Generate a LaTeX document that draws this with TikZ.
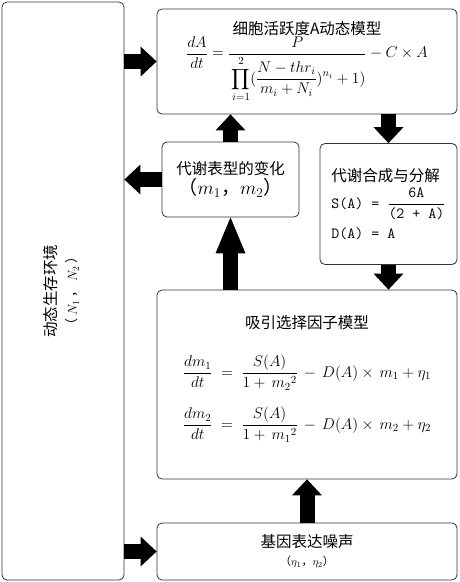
\documentclass[tikz,border=0pt]{standalone}
\usepackage{fix-cm}
\usepackage{amsmath}
\usepackage[no-math]{fontspec}
\newfontfamily\cjk{Noto Sans CJK SC}
\usetikzlibrary{arrows.meta}

\begin{document}
\begin{tikzpicture}[x=1pt, y=-1pt,
		box/.style={draw=black!80, line width=0.8pt, rounded corners=5pt, inner sep=0pt, align=center, font=\cjk\fontsize{15.5}{18}\selectfont},
		bigarrow/.style={line width=15pt, -{Triangle[length=16pt, width=30pt, line width=0pt]}}]
		\useasboundingbox (0,0) rectangle (459,582);
		\node (1) [box, minimum width=122pt, minimum height=578pt] at (63,291) {\rotatebox{90}{\begin{tabular}{@{}c@{}}动态生存环境\\[2pt]{\fontsize{13}{15}\selectfont（\ $N_1$\ ，\ $N_2$\ ）}\end{tabular}}};
		\node (2) [box, minimum width=300pt, minimum height=105pt] at (307,61.5) {细胞活跃度A动态模型\\
			$\displaystyle \frac{dA}{dt} = \frac{P}{\rule{0pt}{27pt}\displaystyle\prod_{i=1}^{2}(\frac{N-thr_i}{m_i+N_i})^{n_i}+1)} - C\times A$};
		\node (3) [box, minimum width=137pt, minimum height=75pt] at (230.5,179.5) {代谢表型的变化\\[2pt]
			{\fontsize{19}{22}\selectfont（$m_1$，$m_2$）}};
		\node (4) [box, align=left, minimum width=137pt, minimum height=121pt] at (388.5,204) {代谢合成与分解\\[2pt]
			\texttt{S(A) = }$\dfrac{\texttt{6A}\rule[-3pt]{0pt}{15pt}}{\texttt{(2 + A)}\rule[-4pt]{0pt}{15pt}}$\\[4pt]
			\texttt{D(A) = A}};
		\node (5) [box, minimum width=300pt, minimum height=189pt] at (307,384.5) {吸引选择因子模型\\[24pt]
			$\displaystyle \frac{dm_1}{dt} \;=\; \frac{S(A)}{1+\,m_2{}^2} \,-\, D(A)\times\, m_1+\eta_1$\\[16pt]
			$\displaystyle \frac{dm_2}{dt} \;=\; \frac{S(A)}{1+\,m_1{}^2} \,-\, D(A)\times\, m_2+\eta_2$\\[6pt]};
		\node (6) [box, minimum width=300pt, minimum height=57pt] at (307,551.5) {基因表达噪声\\
			{\fontsize{11}{13}\selectfont（$\eta_1$，$\eta_2$）}};
		\path
		(1.east |- 2.west) edge [bigarrow] (2.west)
		(3.west) edge [bigarrow] (1.east |- 3.west)
		(3.north) edge [bigarrow] (3.north |- 2.south)
		(4.north |- 2.south) edge [bigarrow] (4.north)
		(4.south) edge [bigarrow] (4.south |- 5.north)
		(3.south |- 5.north) edge [bigarrow, -{Triangle[length=36pt, width=30pt, line width=0pt]}] (3.south)
		(6.north) edge [bigarrow] (6.north |- 5.south)
		(1.east |- 6.west) edge [bigarrow] (6.west);
	\end{tikzpicture}
\end{document}
